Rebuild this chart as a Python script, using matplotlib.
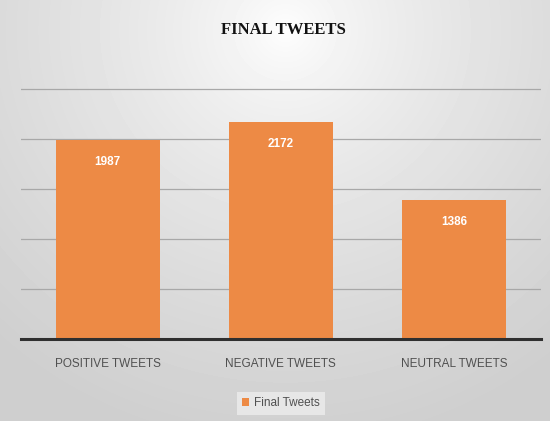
import matplotlib.pyplot as plt
import numpy as np

categorias = ['POSITIVE TWEETS', 'NEGATIVE TWEETS', 'NEUTRAL TWEETS']
valores = [1987, 2172, 1386]
titulo = 'FINAL TWEETS'
serie = 'Final Tweets'

naranja = '#ed8a45'
fuente = ['Liberation Sans Narrow', 'Liberation Sans', 'DejaVu Sans']

fig = plt.figure(figsize=(5.5, 4.21), dpi=100)

# fondo con degradado radial (blanco arriba al centro, gris en los bordes)
fondo = fig.add_axes([0, 0, 1, 1], zorder=-10)
yy, xx = np.mgrid[0:421, 0:550]
d = np.sqrt(((xx - 285) / 430.0) ** 2 + ((yy - 30) / 420.0) ** 2)
d = np.clip(d, 0, 1)
gris = 1.0 - 0.19 * d ** 0.7
fondo.imshow(gris, cmap='gray', vmin=0, vmax=1, aspect='auto', interpolation='bilinear')
fondo.axis('off')

ax = fig.add_axes([0.038, 0.195, 0.945, 0.599])
ax.set_facecolor('none')
x = np.arange(len(categorias))
barras = ax.bar(x, valores, width=0.6, color=naranja, zorder=3, label=serie)

ax.set_xlim(-0.5, 2.5)
ax.set_ylim(0, 2520)
ax.set_yticks([500, 1000, 1500, 2000, 2500])
ax.grid(axis='y', color='#a8a8a8', linewidth=0.9, zorder=0)
ax.tick_params(axis='y', left=False, labelleft=False)
ax.tick_params(axis='x', bottom=False, pad=10)
ax.set_xticks(x)
ax.set_xticklabels(categorias, family=fuente, fontsize=8.5, color='#505050')
for lado in ['top', 'right', 'left']:
    ax.spines[lado].set_visible(False)
ax.spines['bottom'].set_color('#2f2f2f')
ax.spines['bottom'].set_linewidth(2.2)
ax.spines['bottom'].set_zorder(4)

# etiquetas de valor dentro de cada barra
for b, v in zip(barras, valores):
    ax.text(b.get_x() + b.get_width() / 2, v - 220, str(v), ha='center', va='center',
            color='white', fontsize=8.5, fontweight='bold', family=fuente, zorder=5)

fig.text(0.515, 0.928, titulo, ha='center', va='center', fontsize=12,
         fontweight='bold', family=['Liberation Serif', 'DejaVu Serif'], color='#111111')

leg = ax.legend(loc='center', bbox_to_anchor=(0.5, -0.255), frameon=True, fancybox=False,
                handlelength=0.6, handleheight=0.6, handletextpad=0.4, borderpad=0.45,
                prop={'family': fuente, 'size': 8.5})
leg.get_frame().set_facecolor('#ededed')
leg.get_frame().set_edgecolor('none')
for t in leg.get_texts():
    t.set_color('#505050')

fig.savefig('out.png', dpi=100)
